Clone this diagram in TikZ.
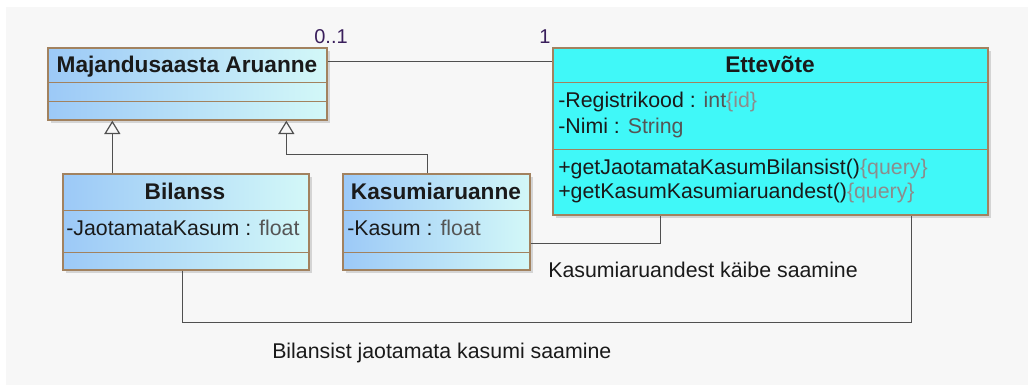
\documentclass[tikz,border=0pt]{standalone}
\usepackage{fontspec}
\setmainfont{Liberation Sans}
\usetikzlibrary{arrows.meta,calc,fit,shadows}

\definecolor{bggray}{HTML}{F7F7F7}
\definecolor{boxline}{HTML}{A2825F}
\definecolor{clsleft}{HTML}{9CC9F7}
\definecolor{clsright}{HTML}{D3F8F8}
\definecolor{cyanfill}{HTML}{40F8F8}
\definecolor{wire}{HTML}{505050}
\definecolor{multcol}{HTML}{3A1F5C}
\definecolor{typegray}{HTML}{555555}
\definecolor{propgray}{HTML}{8C8C8C}
\definecolor{ink}{HTML}{1A1A1A}

\newcommand\utype[1]{\textcolor{typegray}{#1}}
\newcommand\uprop[1]{\textcolor{propgray}{\{#1\}}}

\begin{document}
\begin{tikzpicture}[x=0.75pt,y=-0.75pt,
  classbox/.style={draw=boxline,line width=1pt,inner sep=0pt,
    drop shadow={shadow xshift=2.5pt,shadow yshift=-2.5pt,fill=black!30}},
  gradbox/.style={classbox,left color=clsleft,right color=clsright},
  sep/.style={draw=boxline,line width=1pt},
  title/.style={anchor=base,font=\fontsize{17}{20}\selectfont\bfseries,text=ink},
  member/.style={anchor=base west,inner sep=0pt,font=\fontsize{16}{19}\selectfont,text=ink},
  mult/.style={anchor=base,inner sep=0pt,font=\fontsize{15}{18}\selectfont,text=multcol},
  inherit/.style={draw=wire,line width=0.9pt,-{Triangle[open,width=12pt,length=10pt,line width=0.9pt]}},
  assoc/.style={draw=wire,line width=0.9pt}]
\useasboundingbox (0,0) rectangle (1028,385);
\fill[bggray] (6,7) rectangle (1028,385);

% classes
\node[gradbox,fit={(48,48) (327,120)}] (maj) {};
\draw[sep] ($(maj.north west)+(0,35)$) -- ($(maj.north east)+(0,35)$);
\draw[sep] ($(maj.north west)+(0,54)$) -- ($(maj.north east)+(0,54)$);
\node[title] (majT) at (187,73) {Majandusaasta Aruanne};

\node[classbox,fill=cyanfill,fit={(553,48) (988,215)}] (ette) {};
\draw[sep] ($(ette.north west)+(0,35)$) -- ($(ette.north east)+(0,35)$);
\draw[sep] ($(ette.north west)+(0,102)$) -- ($(ette.north east)+(0,102)$);
\node[title] (etteT) at (770,73) {Ettevõte};
\node[member] (etteA1) at (558,108) {-Registrikood : \utype{int}\uprop{id}};
\node[member] (etteA2) at (558,133) {-Nimi : \utype{String}};
\node[member] (etteO1) at (558,174) {+getJaotamataKasumBilansist()\uprop{query}};
\node[member] (etteO2) at (558,198) {+getKasumKasumiaruandest()\uprop{query}};

\node[gradbox,fit={(63,174) (309,270)}] (bil) {};
\draw[sep] ($(bil.north west)+(0,37)$) -- ($(bil.north east)+(0,37)$);
\draw[sep] ($(bil.north west)+(0,79)$) -- ($(bil.north east)+(0,79)$);
\node[title] (bilT) at (185,199) {Bilanss};
\node[member] (bilA) at (66,235) {-JaotamataKasum : \utype{float}};

\node[gradbox,fit={(343,174) (530,270)}] (kas) {};
\draw[sep] ($(kas.north west)+(0,37)$) -- ($(kas.north east)+(0,37)$);
\draw[sep] ($(kas.north west)+(0,79)$) -- ($(kas.north east)+(0,79)$);
\node[title] (kasT) at (436,199) {Kasumiaruanne};
\node[member] (kasA) at (347,235) {-Kasum : \utype{float}};

% generalizations
\coordinate (b1) at ($(bil.north west)+(50,0)$);
\draw[inherit] (b1) -- (b1 |- maj.south);
\coordinate (k1) at ($(kas.north west)+(85,0)$);
\coordinate (m2) at ($(maj.south west)+(239,0)$);
\draw[inherit] (k1) -- ++(0,-19) -| (m2);

% associations
\draw[assoc] ($(maj.north east)+(0,14)$) -- ($(ette.north west)+(0,14)$);
\node[mult] (multA) at (331,44) {0..1};
\node[mult] (multB) at (545,44) {1};

\coordinate (e1) at ($(ette.south west)+(108,0)$);
\draw[assoc] ($(kas.south east)+(0,-27)$) -| (e1);
\node[member] (kasL) at (548,277) {Kasumiaruandest käibe saamine};

\coordinate (b2) at ($(bil.south west)+(120,0)$);
\coordinate (e2) at ($(ette.south west)+(359,0)$);
\draw[assoc] (b2) -- ++(0,52) -| (e2);
\node[member] (bilL) at (272,358) {Bilansist jaotamata kasumi saamine};
\end{tikzpicture}
\end{document}
